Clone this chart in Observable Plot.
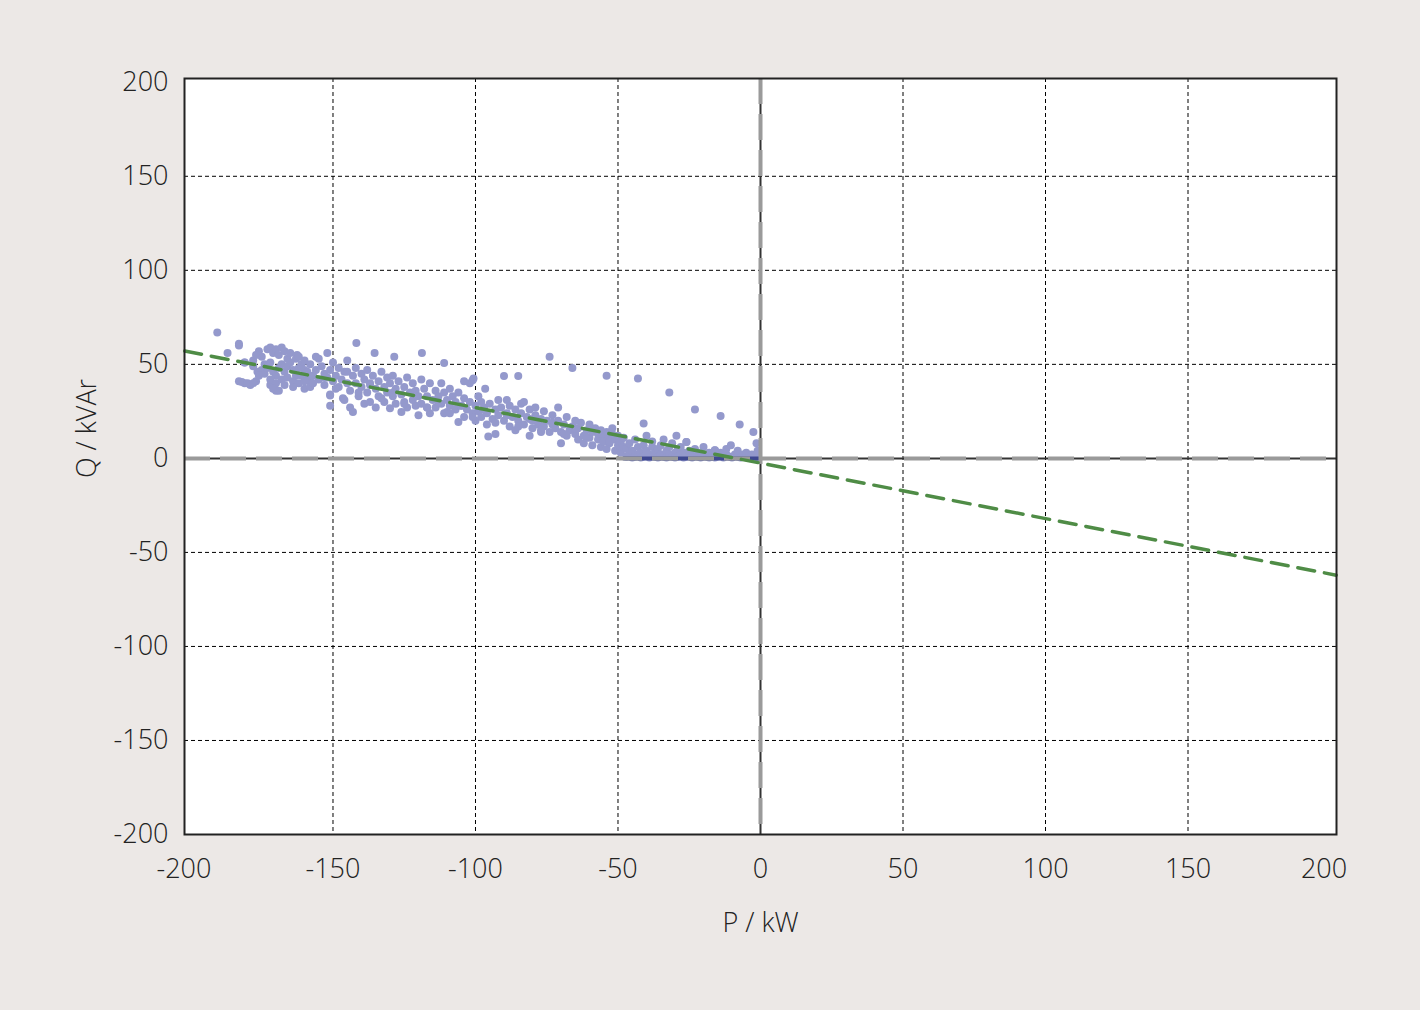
<!DOCTYPE html>
<html>
<head>
<meta charset="utf-8">
<script src="https://cdn.jsdelivr.net/npm/d3@7"></script>
<script src="https://cdn.jsdelivr.net/npm/@observablehq/plot@0.6"></script>
<style>
  html, body { margin: 0; padding: 0; background: #ece8e6; }
  #chart { width: 1420px; height: 1010px; }
</style>
</head>
<body>
<div id="chart"></div>
<script>
// Measured points: active power P (kW) and reactive power Q (kVAr)
const pointsP = [
  -190.6,-187,-183,-183,-181,-181,-179,-177,-182,-180,-178,-172,-170,-176.5,-160,-151,-151,-146.5,-152,-156,-162.6,-183,-181,
  -176,-175,-174,-173,-172,-171,-170,-169,-168,-167,-166,-175,-174,-173,-172,-171,-170,-169,-168,-167,-166,-165,-164,-163,-172,-170,-168,-166,-164,-162,-171,-169,-176,-178,-178,-177,-165,-163,-161,-160,-159,-158,-162,-164,-167,
  -162,-161,-160,-160,-159,-158,-158,-157,-156,-155,-155,-154,-153,-153,-152,-151,-151,-150,-150,-149,-148,-148,-147,-146,-146,-145,-145,-144,-144,-143,-143,-142,-142,-141,-140,-140,-139,-139,
  -141.8,-135.4,-128.5,-118.8,-111,
  -138,-138,-137,-137,-136,-135,-135,-134,-134,-133,-132,-132,-131,-131,-130,-130,-129,-129,-128,-128,-127,-126,-126,-125,-125,-124,-124,-123,-122,-122,-121,-121,-120,-120,-119,-119,-118,-117,-117,-116,-116,-115,
  -114,-114,-113,-112,-112,-111,-111,-110,-110,-109,-109,-108,-107,-107,-106,-106,-105,-104,-104,-103,-102,-102,-101,-101,-100,-100,-99,-99,-98,-98,-97,-96,-96,-95.5,-95,-94,-93,-93,-92,-92,
  -100.7,-104,-96.6,
  -91,-90,-90,-89,-89,-88,-88,-87,-86,-86,-85,-85,-84,-84,-83,-83,-82,-81,-81,-80,-80,-79,-79,-78,-77,-77,-76,-76,-75,-74,-74,-73,-73,-72,-71,-71,-70,-70,-69,-68,-68,-67,
  -66,-66,-65,-65,-64,-64,-63,-62,-62,-61,-60,-60,-59,-59,-58,-57,-57,-56,-56,-55,-55,-54,-54,-54,-53,-53,-52,-52,-51,-51,-50,-50,-49,-49,-48,-48,
  -47,-47,-46,-46,-45,-45,-44,-44,-43,-43,-43,-42,-42,-41,-41,-41,-40,-40,-39,-39,-38,-38,-37,-37,-36,-36,-35,-35,-34,-34,-33,-33,-32,-32,-32,-31,-31,-30,-30,-29,-29,-28,-28,
  -27,-27,-26,-26,-25,-24,-24,-23,-23,-22,-22,-21,-20,-20,-19,-18,-18,-17,-16,-16,-15,-14,-14,-13,-12,-12,-11,-10.4,-10,-9,-8,-8,-7.3,-7,-6,-5,-5,-4,-3,-2.5,-2,-1.4,-1,-1,
  -29.5,-26,-16,
  -157,-153,-149,-145,-141,-137,-133,-129,-125,-121,-117,-113,-109,-105,-101,-97,-93,-89,-85,-81,-77,-73,-69,-65,-61,-57,-53
];
const pointsQ = [
  67,56,60,41,40,51,39,41,40.6,40,40,39,36,46,37,33.5,28,32,56,54,55,61,51,
  57,54,50,58,59,56,58,55,59,57,53,47,45,48,51,46,44,48,50,46,49,51,47,44,42,40,42,43,41,40,37,36,44,52,49,55,56,53,50,47,43,41,54,38,39,
  48,44,52,41,46,50,38,44,47,42,53,49,45,39,43,47,34,41,51,44,38,48,42,46,31,40,52,36,27,44,24.6,40,48,33,45,38,29,42,
  61.3,56,54,56,50.7,
  47,35,40,30,44,37,27,41,33,46,38,30,43,35,40,26.6,33,44,37,29,41,34,24.6,38,30,43,27,35,40,31,28,36,23,33,42,29,37,27,33,40,24,31,
  36,27,33,29,40,24,35,24.6,31,28,37,33,26,30,19.3,35,28,32,22,26,30,40,41.5,24,28,20,33,25,22,30,27,18,24,11.7,29,21,26,13,23,31,
  42.5,41,37,
  27,43.8,20,24,31,17,28,22,26,15,43.8,20,24,29,18,30,22,12,26,20,16,27,23,18,21,14,25,17,20,54,14,18,23,16,20,27,8,14,18,12,22,15,
  48,17,13,20,10,16,19,12,8,15,18,11,7,14,16,10,13,6,15,12,9,44,14,5,11,8,13,16,10,4,12,7,9,3,6,11,
  1,5,8,2,0.5,4,10,1,42.5,6,2,3,0.5,18.6,7,1,4,12,2,0.5,6,9,1,3,5,0.5,7,2,10,1,4,0.5,35,6,2,1,8,3,0.5,5,1,2,6,
  3,0.5,8.7,1,4,0.5,2,26,5,1,3,0.5,2,6,1,3,0.5,2,4.3,0.5,1,22.5,3,0.5,2,5,1,7,0.5,2,1,4,18,0.5,2,1,3,0.5,2,14,1,8,0.5,4,
  12,8.7,4.3,
  40,43,37,46,35,39,32,35,29,33,27,30,24,28,22,26,19,23,17,21,15,19,13,16,11,14,9
];
// Points lying on Q = 0 (drawn darker)
const zeroSegP = [-48, 0];
const zeroSegQ = [0, 0];
// Linear fit line
const fitP = [-202, 202];
const fitQ = [57.1, -62.1];
// Ticks
const xTicksInner = [-150, -100, -50, 0, 50, 100, 150];
const xTicksEnds = [-200, 200];
const yTicks = [-200, -150, -100, -50, 0, 50, 100, 150, 200];
const gridX = [-150, -100, -50, 50, 100, 150];
const gridY = [-150, -100, -50, 50, 100, 150];

const pts = pointsP.map((p, i) => ({P: p, Q: pointsQ[i]}));
const fit = fitP.map((p, i) => ({P: p, Q: fitQ[i]}));
const zseg = zeroSegP.map((p, i) => ({P: p, Q: zeroSegQ[i]}));

const chart = Plot.plot({
  width: 1420,
  height: 1010,
  marginLeft: 184,
  marginRight: 84,
  marginTop: 78,
  marginBottom: 176,
  style: {background: "transparent", fontFamily: "'Open Sans', sans-serif", fontSize: "27px", fontWeight: 300, color: "#222"},
  x: {domain: [-202.1, 202.1]},
  y: {domain: [-200, 202]},
  marks: [
    Plot.frame({fill: "white", stroke: "none"}),
    Plot.ruleX(gridX, {stroke: "#000", strokeWidth: 1, strokeDasharray: "4,3"}),
    Plot.ruleY(gridY, {stroke: "#000", strokeWidth: 1, strokeDasharray: "4,3"}),
    Plot.ruleX([0], {stroke: "#333", strokeWidth: 2}),
    Plot.ruleY([0], {stroke: "#333", strokeWidth: 2}),
    Plot.dot(pts, {x: "P", y: "Q", r: 4, fill: "#9499cc", stroke: "none"}),
    Plot.line(zseg, {x: "P", y: "Q", stroke: "#3f4890", strokeWidth: 4}),
    Plot.ruleX([0], {stroke: "#9a9a9a", strokeWidth: 4, strokeDasharray: "26,10"}),
    Plot.ruleY([0], {stroke: "#9a9a9a", strokeWidth: 4, strokeDasharray: "26,10"}),
    Plot.line(fit, {x: "P", y: "Q", stroke: "#4f8c46", strokeWidth: 3.5, strokeDasharray: "17,10"}),
    Plot.frame({stroke: "#222", strokeWidth: 2}),
    Plot.axisX({ticks: xTicksInner, tickSize: 0, tickPadding: 24, label: null, fontSize: 27, tickFormat: d => String(d)}),
    Plot.axisX({ticks: xTicksEnds, tickSize: 0, tickPadding: 24, label: null, fontSize: 27, dx: -6.5, tickFormat: d => String(d)}),
    Plot.axisY({ticks: yTicks, tickSize: 0, tickPadding: 16, label: null, fontSize: 27, tickFormat: d => String(d)}),
    Plot.text(["P / kW"], {frameAnchor: "bottom", dy: 97, text: d => d, fontSize: 27, fill: "#222"}),
    Plot.text(["Q / kVAr"], {frameAnchor: "left", dx: -97, dy: -28, rotate: -90, textAnchor: "middle", text: d => d, fontSize: 27, fill: "#222"})
  ]
});
document.getElementById("chart").appendChild(chart);
</script>
</body>
</html>
